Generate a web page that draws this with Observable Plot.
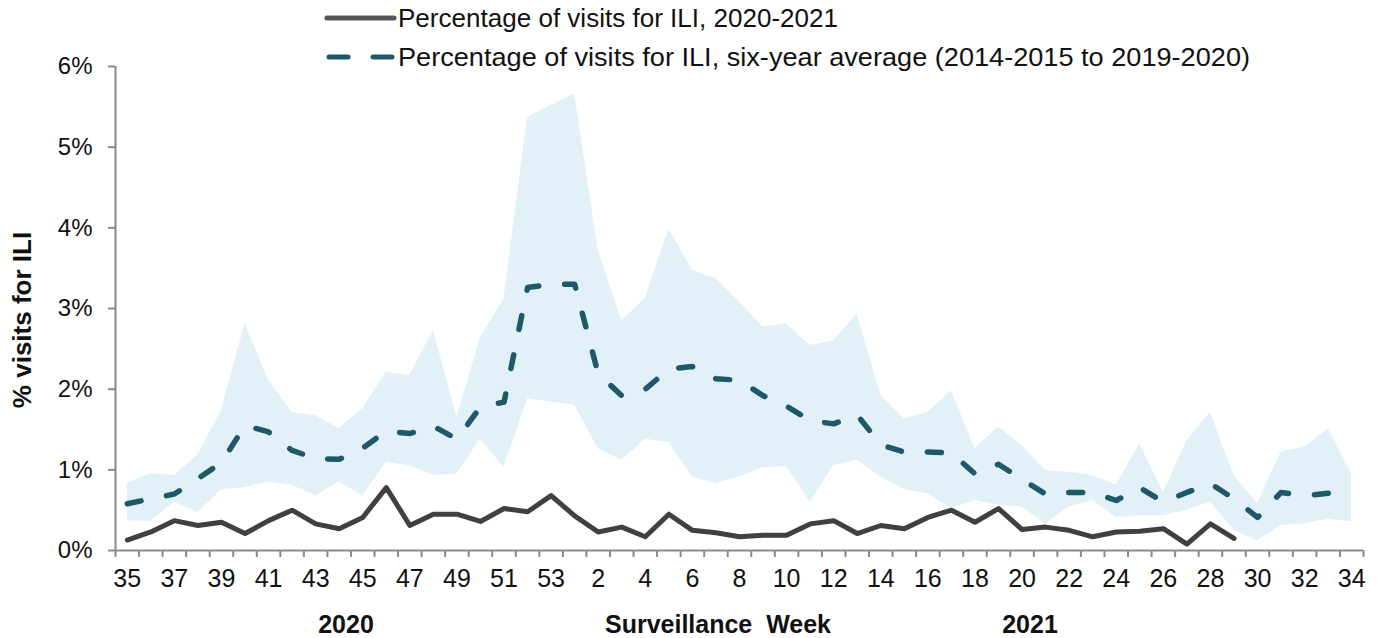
<!DOCTYPE html>
<html>
<head>
<meta charset="utf-8">
<script src="https://cdn.jsdelivr.net/npm/d3@7"></script>
<script src="https://cdn.jsdelivr.net/npm/@observablehq/plot@0.6"></script>
<style>
  html, body { margin: 0; padding: 0; background: #fff; }
  #chart svg { display: block; }
</style>
</head>
<body>
<div id="chart"></div>
<script>
// Surveillance weeks (2020 season: weeks 35–53, then 2021: weeks 1–34)
const weeks = ["35","36","37","38","39","40","41","42","43","44","45","46","47","48","49","50","51","52","53",
  "1","2","3","4","5","6","7","8","9","10","11","12","13","14","15","16","17","18","19","20","21","22","23","24",
  "25","26","27","28","29","30","31","32","33","34"];

// Percentage of visits for ILI, 2020-2021 (through week 29)
const ili2021 = [0.13,0.23,0.37,0.31,0.35,0.21,0.37,0.50,0.33,0.27,0.41,0.78,0.31,0.45,0.45,0.36,0.52,0.48,0.68,
  0.43,0.23,0.29,0.17,0.45,0.25,0.22,0.17,0.19,0.19,0.33,0.37,0.21,0.31,0.27,0.41,0.50,0.35,0.52,0.26,0.29,0.25,
  0.17,0.23,0.24,0.27,0.08,0.33,0.15];

// Six-year average (2014-2015 to 2019-2020)
const sixYearAvg = [0.58,0.64,0.70,0.89,1.09,1.55,1.47,1.24,1.14,1.13,1.27,1.48,1.45,1.54,1.38,1.78,1.84,3.26,3.30,
  3.30,2.19,1.92,2.00,2.25,2.28,2.13,2.11,1.92,1.79,1.61,1.57,1.68,1.31,1.22,1.22,1.21,0.95,1.07,0.88,0.70,0.72,
  0.72,0.62,0.78,0.60,0.72,0.83,0.64,0.41,0.72,0.68,0.71,0.66];

// Range (min / max) over the six seasons
const rangeMax = [0.83,0.95,0.93,1.18,1.74,2.81,2.11,1.71,1.67,1.51,1.76,2.21,2.17,2.73,1.65,2.64,3.12,5.37,5.52,
  5.66,3.72,2.85,3.12,3.99,3.47,3.37,3.08,2.77,2.81,2.54,2.60,2.93,1.92,1.63,1.71,1.98,1.26,1.53,1.30,0.99,0.97,
  0.93,0.81,1.32,0.72,1.36,1.71,0.93,0.58,1.22,1.28,1.51,0.95];
const rangeMin = [0.37,0.36,0.60,0.47,0.75,0.78,0.85,0.81,0.68,0.85,0.68,1.09,1.05,0.93,0.95,1.38,1.03,1.88,1.84,
  1.80,1.26,1.12,1.38,1.34,0.91,0.83,0.91,1.03,1.04,0.60,1.05,1.12,0.91,0.76,0.70,0.52,0.62,0.56,0.54,0.33,0.54,
  0.62,0.41,0.43,0.43,0.50,0.60,0.25,0.12,0.31,0.33,0.39,0.35];

const yTicks = [0,1,2,3,4,5,6];

const seasonData = weeks.map((w, i) => ({i, week: w, lo: rangeMin[i], hi: rangeMax[i], avg: sixYearAvg[i]}));
const iliData = ili2021.map((v, i) => ({i, week: weeks[i], v}));
const labelIdx = weeks.map((w, i) => i).filter(i => i % 2 === 0);
const boundaries = d3.range(-0.5, weeks.length, 1);

const axisGray = "#8a8a8a";
const font = "'Liberation Sans', Arial, Helvetica, sans-serif";

const svg = Plot.plot({
  width: 1382,
  height: 638,
  marginLeft: 115,
  marginRight: 19,
  marginTop: 66,
  marginBottom: 88,
  style: {fontFamily: font, fontSize: "24px", color: "#111", background: "#fff"},
  x: {type: "linear", domain: [-0.5, weeks.length - 0.5]},
  y: {domain: [0, 6]},
  marks: [
    Plot.areaY(seasonData, {x: "i", y1: "lo", y2: "hi", fill: "#e2f1f7"}),
    Plot.lineY(seasonData, {x: "i", y: "avg", stroke: "#1f5868", strokeWidth: 5.5,
      strokeDasharray: "14,26", strokeLinecap: "round", strokeLinejoin: "round"}),
    Plot.lineY(iliData, {x: "i", y: "v", stroke: "#404040", strokeWidth: 5, strokeLinejoin: "round"}),
    Plot.ruleX([-0.5], {y1: 0, y2: 6, stroke: axisGray, strokeWidth: 2}),
    Plot.ruleY([0], {stroke: axisGray, strokeWidth: 2}),
    Plot.axisY({ticks: yTicks, tickFormat: d => d + "%", tickSize: 7, tickPadding: 16,
      stroke: axisGray, strokeWidth: 2, label: null, fontSize: 24}),
    Plot.axisX({ticks: boundaries, tickFormat: () => "", tickSize: 7, stroke: axisGray, strokeWidth: 2, label: null}),
    Plot.axisX({ticks: labelIdx, tickFormat: i => weeks[i], tickSize: 0, tickPadding: 19, label: null, fontSize: 25})
  ]
});

const s = d3.select(svg);
const g = s.append("g").attr("font-family", font).attr("fill", "#111");

// Y axis title
g.append("text")
  .attr("transform", "translate(22,320) rotate(-90)")
  .attr("text-anchor", "middle").attr("dy", "0.35em")
  .attr("font-size", 26).attr("font-weight", "bold")
  .text("% visits for ILI");

// Bottom labels
[["2020", 346], ["Surveillance  Week", 718], ["2021", 1030]].forEach(([t, x]) => {
  g.append("text").attr("x", x).attr("y", 624).attr("dy", "0.35em")
    .attr("text-anchor", "middle").attr("font-size", 25).attr("font-weight", "bold")
    .style("white-space", "pre")
    .text(t);
});

// Legend
const leg = g.append("g").attr("text-anchor", "start");
leg.append("line").attr("x1", 327).attr("x2", 394).attr("y1", 18).attr("y2", 18)
  .attr("stroke", "#555").attr("stroke-width", 5).attr("stroke-linecap", "round");
leg.append("text").attr("x", 398).attr("y", 18).attr("dy", "0.35em").attr("font-size", 26)
  .attr("text-anchor", "start")
  .attr("textLength", 440).attr("lengthAdjust", "spacingAndGlyphs")
  .text("Percentage of visits for ILI, 2020-2021");
[[329, 348], [373, 392]].forEach(([a, b]) => {
  leg.append("line").attr("x1", a).attr("x2", b).attr("y1", 57).attr("y2", 57)
    .attr("stroke", "#1f5868").attr("stroke-width", 5).attr("stroke-linecap", "round");
});
leg.append("text").attr("x", 398).attr("y", 57).attr("dy", "0.35em").attr("font-size", 26)
  .attr("text-anchor", "start")
  .attr("textLength", 852).attr("lengthAdjust", "spacingAndGlyphs")
  .text("Percentage of visits for ILI, six-year average (2014-2015 to 2019-2020)");

document.getElementById("chart").appendChild(svg);
</script>
</body>
</html>
